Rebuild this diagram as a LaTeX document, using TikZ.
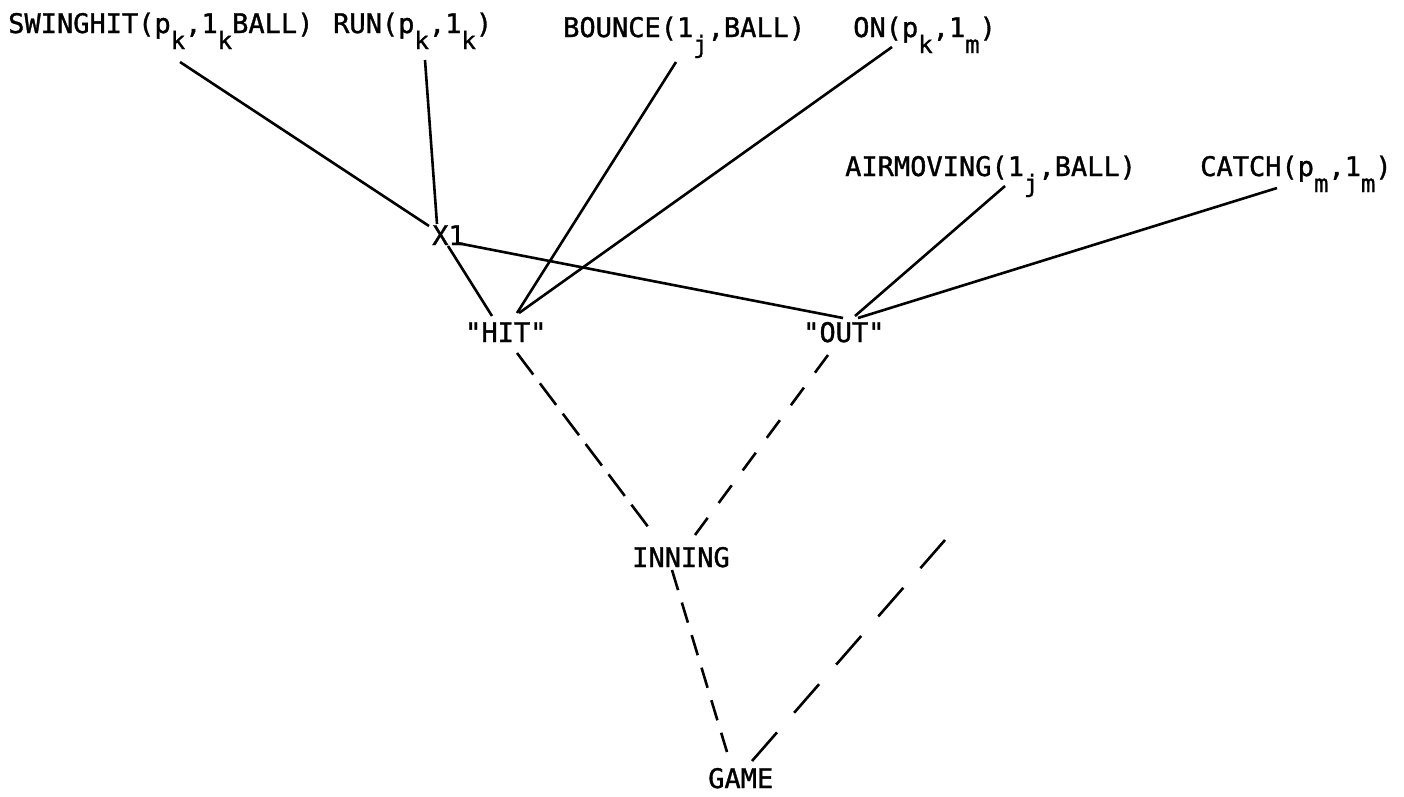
\documentclass[tikz,border=0pt]{standalone}
\usepackage{fontspec}
\newfontfamily\labfont[FakeBold=1.2]{DejaVu Sans Mono}
\newcommand{\sub}[1]{\raisebox{-16pt}{\fontsize{24}{24}\selectfont #1}}
\begin{document}
\begin{tikzpicture}[x=1pt,y=-1pt,
  lab/.style={anchor=base west,inner sep=0pt,font=\labfont\fontsize{27}{27}\selectfont},
  conn/.style={line width=2.6pt},
  dconn/.style={line width=2.6pt,dash pattern=on #1},
  dconn/.default={30pt off 18pt}]
\fill[white] (0,0) rectangle (1404,796);
\useasboundingbox (0,0) rectangle (1404,796);
% labels
\node[lab] (sw) at (8,33) {SWINGHIT(p\sub{k},1\sub{k}BALL)};
\node[lab] (run) at (333,33) {RUN(p\sub{k},1\sub{k})};
\node[lab] (bounce) at (563,37) {BOUNCE(1\sub{j},BALL)};
\node[lab] (on) at (853,37) {ON(p\sub{k},1\sub{m})};
\node[lab] (air) at (845,176) {AIRMOVING(1\sub{j},BALL)};
\node[lab] (catch) at (1200,176) {CATCH(p\sub{m},1\sub{m})};
\node[lab] (x1) at (432,245) {X1};
\node[lab] (hit) at (465,342) {"HIT"};
\node[lab] (out) at (803,342) {"OUT"};
\node[lab] (inning) at (632,567) {INNING};
\node[lab] (game) at (708,788) {GAME};
\coordinate (free) at (945,540);
% solid connectors
\draw[conn] ([shift={(172,29)}]sw.base west) -- ([shift={(-3,-19)}]x1.base west);
\draw[conn] ([shift={(92,27)}]run.base west) -- ([shift={(5,-21)}]x1.base west);
\draw[conn] ([shift={(113,25)}]bounce.base west) -- ([shift={(52,-29)}]hit.base west);
\draw[conn] ([shift={(39,10)}]on.base west) -- ([shift={(54,-29)}]hit.base west);
\draw[conn] ([shift={(16,1)}]x1.base west) -- ([shift={(27,-26)}]hit.base west);
\draw[conn] ([shift={(25,-2)}]x1.base west) -- ([shift={(40,-24)}]out.base west);
\draw[conn] ([shift={(160,10)}]air.base west) -- ([shift={(52,-26)}]out.base west);
\draw[conn] ([shift={(77,12)}]catch.base west) -- ([shift={(55,-24)}]out.base west);
% dashed connectors
\draw[dconn={27pt off 11pt}] ([shift={(52,11)}]hit.base west) -- ([shift={(17,-39)}]inning.base west);
\draw[dconn={22pt off 18.5pt}] ([shift={(25,13)}]out.base west) -- ([shift={(63,-32)}]inning.base west);
\draw[dconn={21pt off 13pt}] ([shift={(40,3)}]inning.base west) -- ([shift={(19,-36)}]game.base west);
\draw[dconn={38pt off 26pt}] ([shift={(44,-27)}]game.base west) -- (free);
\end{tikzpicture}
\end{document}
